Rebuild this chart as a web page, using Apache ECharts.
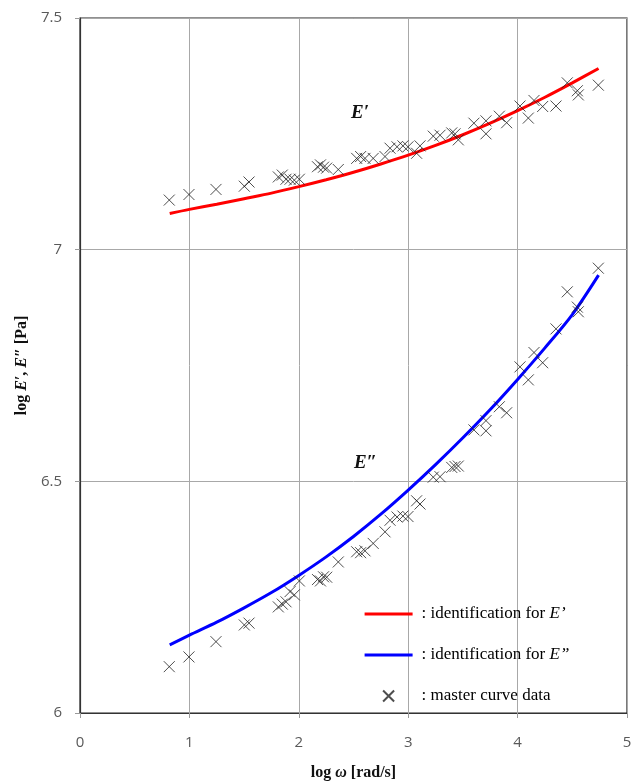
<!DOCTYPE html>
<html>
<head>
<meta charset="utf-8">
<title>Storage and loss modulus master curves</title>
<script src="https://cdn.jsdelivr.net/npm/echarts@6/dist/echarts.min.js"></script>
<style>
  html, body { margin: 0; padding: 0; background: #fff; }
  #chart { width: 639px; height: 783px; }
</style>
</head>
<body>
<div id="chart"></div>
<script>
// Angular frequency of each master curve sample, log10(rad/s)
const logOmega = [
  0.816, 0.996, 1.243, 1.502, 1.545, 1.813, 1.849, 1.883, 1.920, 1.959,
  2.005, 2.171, 2.198, 2.226, 2.255, 2.361, 2.529, 2.565, 2.605, 2.680,
  2.788, 2.834, 2.898, 2.952, 2.998, 3.077, 3.108, 3.229, 3.291, 3.398,
  3.428, 3.458, 3.601, 3.711, 3.711, 3.833, 3.900, 4.022, 4.098, 4.150,
  4.229, 4.351, 4.454, 4.546, 4.555, 4.738
];
// Storage modulus master curve, log10(Pa)
const logStorage = [
  7.107, 7.119, 7.130, 7.137, 7.146, 7.157, 7.161, 7.152, 7.152, 7.150,
  7.152, 7.179, 7.183, 7.178, 7.176, 7.173, 7.197, 7.201, 7.197, 7.197,
  7.201, 7.219, 7.222, 7.224, 7.222, 7.208, 7.224, 7.245, 7.247, 7.252,
  7.250, 7.237, 7.273, 7.278, 7.250, 7.288, 7.274, 7.310, 7.284, 7.322,
  7.309, 7.310, 7.360, 7.343, 7.334, 7.355
];
// Loss modulus master curve, log10(Pa)
const logLoss = [
  6.100, 6.121, 6.154, 6.190, 6.194, 6.229, 6.235, 6.240, 6.262, 6.255,
  6.285, 6.288, 6.285, 6.294, 6.293, 6.326, 6.348, 6.346, 6.350, 6.366,
  6.391, 6.416, 6.423, 6.425, 6.424, 6.458, 6.451, 6.509, 6.510, 6.530,
  6.532, 6.533, 6.611, 6.631, 6.609, 6.661, 6.648, 6.747, 6.719, 6.778,
  6.756, 6.829, 6.909, 6.876, 6.866, 6.960
];

// Identified model curves
const fitOmega = [0.82, 1.0, 1.25, 1.5, 1.75, 2.0, 2.25, 2.5, 2.75, 3.0,
                  3.25, 3.5, 3.75, 4.0, 4.25, 4.5, 4.74];
const fitStorage = [7.078, 7.087, 7.098, 7.110, 7.122, 7.136, 7.151, 7.167, 7.185, 7.204,
                    7.225, 7.248, 7.273, 7.300, 7.329, 7.360, 7.391];
const fitLoss = [6.147, 6.168, 6.196, 6.227, 6.260, 6.297, 6.337, 6.381, 6.429, 6.481,
                 6.536, 6.594, 6.655, 6.720, 6.788, 6.860, 6.945];

const legendNames = [
  'identification for E\u2019',
  'identification for E\u201D',
  'master curve data'
];

const zip = (xs, ys) => xs.map((x, i) => [x, ys[i]]);
const crossPath = 'path://M0,0L10,10M10,0L0,10';
const serif = '"Liberation Serif", "Times New Roman", serif';
const tickFont = '"Open Sans", "Liberation Sans", sans-serif';

const chart = echarts.init(document.getElementById('chart'), null, { renderer: 'canvas' });

const titleRich = {
  b: { fontFamily: serif, fontWeight: 'bold', fontSize: 16, color: '#111' },
  bi: { fontFamily: serif, fontWeight: 'bold', fontStyle: 'italic', fontSize: 16, color: '#111' }
};

const option = {
  animation: false,
  backgroundColor: '#ffffff',
  grid: {
    left: 80, right: 12, top: 18, bottom: 70,
    outerBoundsMode: 'none', containLabel: false,
    show: true, borderColor: '#222', borderWidth: 1.2, backgroundColor: 'transparent'
  },
  xAxis: {
    type: 'value', min: 0, max: 5, interval: 1,
    name: '{b|log }{bi|\u03C9}{b| [rad/s]}',
    nameLocation: 'middle', nameGap: 52,
    nameTextStyle: { rich: titleRich },
    axisLine: { show: true, onZero: false, lineStyle: { color: '#333', width: 1.2 } },
    axisTick: { show: true, inside: false, length: 5, lineStyle: { color: '#9a9a9a' } },
    axisLabel: { margin: 22, color: '#595959', fontSize: 15, fontFamily: tickFont },
    splitLine: { show: true, lineStyle: { color: '#a8a8a8', width: 1 } }
  },
  yAxis: {
    type: 'value', min: 6, max: 7.5, interval: 0.5,
    name: '{b|log }{bi|E\u2032}{b|, }{bi|E\u2033}{b| [Pa]}',
    nameLocation: 'middle', nameGap: 50, nameRotate: 90,
    nameTextStyle: { rich: titleRich },
    axisLine: { show: true, onZero: false, lineStyle: { color: '#333', width: 1.2 } },
    axisTick: { show: true, inside: false, length: 5, lineStyle: { color: '#9a9a9a' } },
    axisLabel: { margin: 18, color: '#595959', fontSize: 15, fontFamily: tickFont },
    splitLine: { show: true, lineStyle: { color: '#a8a8a8', width: 1 } }
  },
  legend: {
    orient: 'vertical',
    left: 358, top: 599,
    itemWidth: 48, itemHeight: 11, itemGap: 21,
    data: [
      { name: legendNames[0], itemStyle: { opacity: 0 }, lineStyle: { width: 3.2 } },
      { name: legendNames[1], itemStyle: { opacity: 0 }, lineStyle: { width: 3.2 } },
      { name: legendNames[2] }
    ],
    formatter: function (name) {
      if (name === legendNames[0]) return ': identification for {i|E\u2019}';
      if (name === legendNames[1]) return ': identification for {i|E\u201D}';
      return ': master curve data';
    },
    textStyle: {
      fontFamily: serif, fontSize: 17, color: '#000', lineHeight: 20, padding: [0, 0, 0, 4],
      rich: { i: { fontFamily: serif, fontStyle: 'italic', fontSize: 17, color: '#000' } }
    },
    selectedMode: false
  },
  series: [
    {
      name: legendNames[0], type: 'line', data: zip(fitOmega, fitStorage),
      symbol: 'none', showSymbol: false, smooth: 0.3, lineStyle: { color: '#ff0000', width: 3 },
      itemStyle: { color: '#ff0000' }, z: 3
    },
    {
      name: legendNames[1], type: 'line', data: zip(fitOmega, fitLoss),
      symbol: 'none', showSymbol: false, smooth: 0.3, lineStyle: { color: '#0000ff', width: 3 },
      itemStyle: { color: '#0000ff' }, z: 3
    },
    {
      name: legendNames[2], type: 'scatter', data: zip(logOmega, logStorage),
      symbol: crossPath, symbolSize: 11,
      itemStyle: { color: 'rgba(0,0,0,0)', borderColor: '#222', borderWidth: 1 }, z: 4
    },
    {
      name: legendNames[2], type: 'scatter', data: zip(logOmega, logLoss),
      symbol: crossPath, symbolSize: 11,
      itemStyle: { color: 'rgba(0,0,0,0)', borderColor: '#222', borderWidth: 1 }, z: 4
    }
  ]
};

chart.setOption(option);

// Curve captions placed in data coordinates
const captions = [
  { text: 'E\u2032', at: [2.56, 7.295] },
  { text: 'E\u2033', at: [2.61, 6.539] }
];
chart.setOption({
  graphic: captions.map(c => {
    const p = chart.convertToPixel({ gridIndex: 0 }, c.at);
    return {
      type: 'text', x: p[0], y: p[1], z: 10,
      style: {
        text: c.text, fill: '#111', font: 'italic bold 19px ' + serif,
        align: 'center', verticalAlign: 'middle'
      }
    };
  })
});
</script>
</body>
</html>
